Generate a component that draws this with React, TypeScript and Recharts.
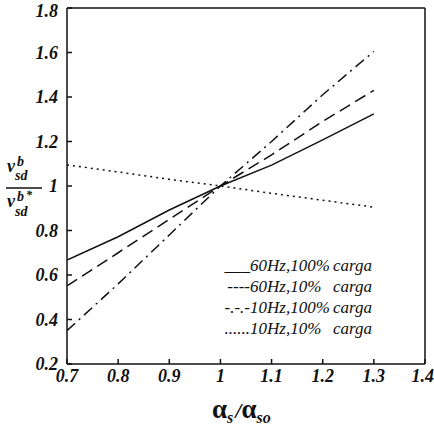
import React from 'react';
import { LineChart, Line, XAxis, YAxis } from 'recharts';

const xValues = [0.7, 0.8, 0.9, 1.0, 1.1, 1.2, 1.3];
const s60Hz100 = [0.667, 0.772, 0.892, 1.0, 1.094, 1.207, 1.324];
const s60Hz10 = [0.551, 0.7, 0.85, 1.0, 1.14, 1.29, 1.43];
const s10Hz100 = [0.35, 0.56, 0.78, 1.0, 1.2, 1.41, 1.605];
const s10Hz10 = [1.095, 1.063, 1.03, 1.0, 0.967, 0.936, 0.905];

const xTicks = [0.7, 0.8, 0.9, 1, 1.1, 1.2, 1.3, 1.4];
const yTicks = [0.2, 0.4, 0.6, 0.8, 1, 1.2, 1.4, 1.6, 1.8];

const legendPrefixes = ['___', '----', '-.-.-', '......'];
const legendMain = ['60Hz,100%', '60Hz,10%', '10Hz,100%', '10Hz,10%'];
const legendTail = ['carga', 'carga', 'carga', 'carga'];

const data = xValues.map((x, i) => ({
  x,
  a: s60Hz100[i],
  b: s60Hz10[i],
  c: s10Hz100[i],
  d: s10Hz10[i],
}));

const FONT = '"Liberation Serif", serif';
const tickStyle = { fontFamily: FONT, fontStyle: 'italic', fontWeight: 'bold', fontSize: 18, fill: '#111' };
const axisStroke = { stroke: '#111', strokeWidth: 1.5 };
const serifBI = { fontFamily: FONT, fontStyle: 'italic', fontWeight: 'bold' } as React.CSSProperties;
const serifI = { fontFamily: FONT, fontStyle: 'italic' } as React.CSSProperties;

function Annotations() {
  return (
    <g>
      <g fill="#111">
        <text x={7} y={172} fontSize={18} style={serifBI}>v</text>
        <text x={17} y={166} fontSize={14} style={serifBI}>b</text>
        <text x={15} y={180} fontSize={14} style={serifBI}>sd</text>
        <line x1={6} x2={42} y1={188} y2={188} stroke="#111" strokeWidth={1.4} />
        <text x={7} y={207} fontSize={18} style={serifBI}>v</text>
        <text x={17} y={201} fontSize={14} style={serifBI}>b</text>
        <text x={26} y={199} fontSize={12} style={serifBI}>*</text>
        <text x={15} y={216} fontSize={14} style={serifBI}>sd</text>
      </g>
      <text style={{ fontFamily: FONT, fontWeight: 'bold' }} fill="#111" x={212} y={418}>
        <tspan fontSize={27}>α</tspan>
        <tspan fontSize={16} dy={5} style={serifBI}>s</tspan>
        <tspan fontSize={22} dy={-5} dx={2} style={serifBI}>/</tspan>
        <tspan fontSize={27}>α</tspan>
        <tspan fontSize={16} dy={5} style={serifBI}>so</tspan>
      </text>
      <g fill="#111">
        {legendMain.map((m, i) => (
          <g key={i}>
            <text x={250} y={271 + i * 21} textAnchor="end" fontSize={17} style={serifI}>{legendPrefixes[i]}</text>
            <text x={250} y={271 + i * 21} fontSize={17} style={serifI}>{m}</text>
            <text x={333} y={271 + i * 21} fontSize={17} style={serifI}>{legendTail[i]}</text>
          </g>
        ))}
      </g>
    </g>
  );
}

export default function App() {
  return (
    <div style={{ position: 'absolute', left: 0, top: 0, width: 434, height: 429, background: '#fff' }}>
      <LineChart width={434} height={429} data={data} margin={{ top: 7, right: 8, bottom: 0, left: 0 }}>
        <XAxis
          xAxisId="b"
          dataKey="x"
          type="number"
          domain={[0.7, 1.4]}
          ticks={xTicks}
          orientation="bottom"
          height={65}
          tickSize={-5}
          tickMargin={10}
          tick={tickStyle}
          axisLine={axisStroke}
          tickLine={axisStroke}
          tickFormatter={(v) => String(v)}
          allowDataOverflow
        />
        <XAxis
          xAxisId="t"
          dataKey="x"
          type="number"
          domain={[0.7, 1.4]}
          ticks={xTicks}
          orientation="top"
          height={1}
          tickSize={-5}
          tick={false}
          axisLine={axisStroke}
          tickLine={axisStroke}
          allowDataOverflow
        />
        <YAxis
          yAxisId="l"
          type="number"
          domain={[0.2, 1.8]}
          ticks={yTicks}
          orientation="left"
          width={67}
          tickSize={-5}
          tickMargin={14}
          tick={tickStyle}
          axisLine={axisStroke}
          tickLine={axisStroke}
          tickFormatter={(v) => String(v)}
          allowDataOverflow
        />
        <YAxis
          yAxisId="r"
          type="number"
          domain={[0.2, 1.8]}
          ticks={yTicks}
          orientation="right"
          width={1}
          tickSize={-5}
          tick={false}
          axisLine={axisStroke}
          tickLine={axisStroke}
          allowDataOverflow
        />
        <Line xAxisId="b" yAxisId="l" dataKey="a" stroke="#111" strokeWidth={1.5} dot={false} isAnimationActive={false} />
        <Line xAxisId="b" yAxisId="l" dataKey="b" stroke="#111" strokeWidth={1.5} strokeDasharray="12 6" dot={false} isAnimationActive={false} />
        <Line xAxisId="b" yAxisId="l" dataKey="c" stroke="#111" strokeWidth={1.5} strokeDasharray="11 5 2 5" dot={false} isAnimationActive={false} />
        <Line xAxisId="b" yAxisId="l" dataKey="d" stroke="#111" strokeWidth={1.5} strokeDasharray="2 4" dot={false} isAnimationActive={false} />
        <Annotations />
      </LineChart>
    </div>
  );
}
